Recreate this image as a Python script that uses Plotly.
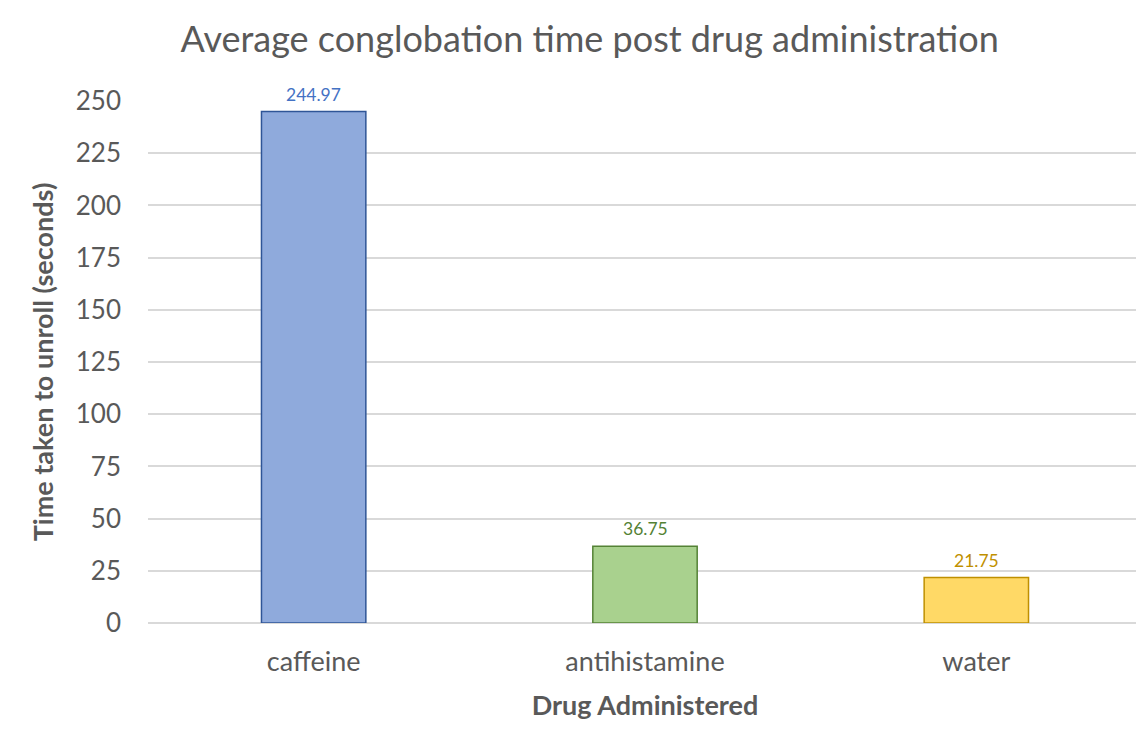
import plotly.graph_objects as go

categories = ["caffeine", "antihistamine", "water"]
values = [244.97, 36.75, 21.75]
labels = ["244.97", "36.75", "21.75"]
fill_colors = ["#8FAADC", "#A9D18E", "#FFD966"]
edge_colors = ["#2F5597", "#548235", "#BF9000"]
label_colors = ["#4472C4", "#548235", "#BF9000"]
y_ticks = [0, 25, 50, 75, 100, 125, 150, 175, 200, 225, 250]

FONT = "Lato"

fig = go.Figure()
fig.add_trace(go.Bar(
    x=categories, y=values,
    marker=dict(color=fill_colors, line=dict(color=edge_colors, width=1.5)),
    cliponaxis=False,
    width=0.315,
))

for cat, val, lab, col in zip(categories, values, labels, label_colors):
    fig.add_annotation(
        x=cat, y=val, text=lab, showarrow=False,
        xanchor="center", yanchor="bottom", yshift=5,
        font=dict(family=FONT, size=17.5, color=col),
    )

fig.update_layout(
    width=1136, height=721,
    paper_bgcolor="white", plot_bgcolor="white",
    margin=dict(l=140, r=2, t=93, b=106),
    showlegend=False,
    title=dict(text="Average conglobation time post drug administration",
               x=0.512, xanchor="center", y=0.957, yanchor="middle",
               font=dict(family=FONT, size=36, color="#595959")),
    xaxis=dict(
        showgrid=False, showline=False, ticks="",
        ticklabelstandoff=20,
        tickfont=dict(family=FONT, size=27, color="#595959"),
        title=dict(text="<b>Drug Administered</b>", standoff=20,
                   font=dict(family=FONT, size=27, color="#595959")),
    ),
    yaxis=dict(
        range=[0, 250], tickvals=y_ticks,
        showgrid=True, gridcolor="#D9D9D9", gridwidth=1.5,
        zeroline=True, zerolinecolor="#D9D9D9", zerolinewidth=1.5,
        showline=False, ticks="", ticklabelstandoff=26,
        tickfont=dict(family=FONT, size=26, color="#595959"),
        title=dict(text="<b>Time taken to unroll (seconds)</b>", standoff=14,
                   font=dict(family=FONT, size=27, color="#595959")),
    ),
)

fig.write_html("out.html")
